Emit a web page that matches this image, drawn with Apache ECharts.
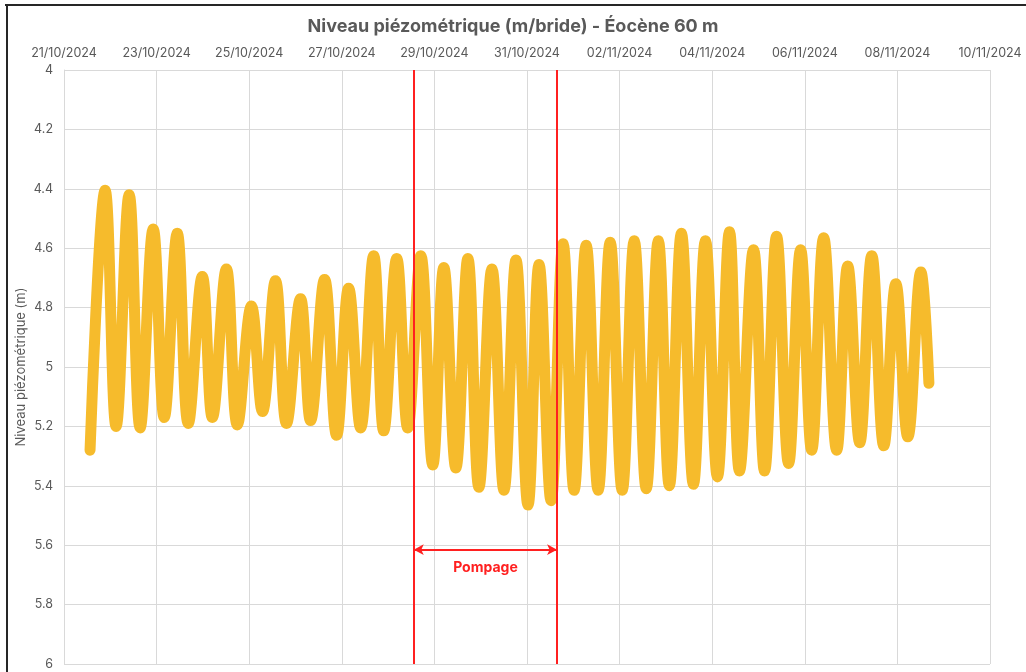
<!DOCTYPE html>
<html>
<head>
<meta charset="utf-8">
<script src="https://cdn.jsdelivr.net/npm/echarts@6/dist/echarts.min.js"></script>
<style>
html,body{margin:0;padding:0;background:#fff;}
#c{width:1026px;height:672px;}
</style>
</head>
<body>
<div id="c"></div>
<script>
// Date labels of the top axis (every 2 days)
const dateTicks = ['21/10/2024','23/10/2024','25/10/2024','27/10/2024','29/10/2024','31/10/2024','02/11/2024','04/11/2024','06/11/2024','08/11/2024','10/11/2024'];
const axisStart = '2024-10-21T00:00';

// Timestamps of successive turning points of the level
const times = [
 '2024-10-21T13:30','2024-10-21T21:18','2024-10-22T03:00','2024-10-22T09:46','2024-10-22T15:29','2024-10-22T22:14',
 '2024-10-23T03:57','2024-10-23T10:42','2024-10-23T16:25','2024-10-23T23:41','2024-10-24T04:53','2024-10-24T12:10',
 '2024-10-24T17:52','2024-10-25T01:09','2024-10-25T06:52','2024-10-25T13:37','2024-10-25T19:20','2024-10-26T02:36',
 '2024-10-26T07:48','2024-10-26T15:04','2024-10-26T21:18','2024-10-27T03:32','2024-10-27T09:46','2024-10-27T16:31',
 '2024-10-27T21:43','2024-10-28T04:28','2024-10-28T10:11','2024-10-28T16:56','2024-10-28T23:10','2024-10-29T04:53',
 '2024-10-29T11:07','2024-10-29T17:21','2024-10-29T23:04','2024-10-30T05:49','2024-10-30T12:03','2024-10-30T18:17',
 '2024-10-31T00:31','2024-10-31T06:14','2024-10-31T12:28','2024-10-31T18:42','2024-11-01T00:25','2024-11-01T06:40',
 '2024-11-01T12:53','2024-11-01T19:07','2024-11-02T01:21','2024-11-02T07:35','2024-11-02T13:49','2024-11-02T20:04',
 '2024-11-03T01:47','2024-11-03T08:01','2024-11-03T14:15','2024-11-03T20:29','2024-11-04T02:43','2024-11-04T08:57',
 '2024-11-04T14:09','2024-11-04T21:25','2024-11-05T03:08','2024-11-05T09:22','2024-11-05T15:36','2024-11-05T21:50',
 '2024-11-06T03:33','2024-11-06T09:47','2024-11-06T16:32','2024-11-06T22:15','2024-11-07T04:29','2024-11-07T10:43',
 '2024-11-07T16:57','2024-11-07T23:11','2024-11-08T05:25','2024-11-08T12:10','2024-11-08T16:20'
];
// Piezometric level (m) at those times
const levels = [
 5.28,4.405,5.20,4.42,5.205,4.535,
 5.17,4.55,5.19,4.695,5.17,4.67,
 5.195,4.795,5.15,4.71,5.19,4.77,
 5.18,4.705,5.23,4.735,5.205,4.625,
 5.215,4.635,5.205,4.625,5.33,4.665,
 5.34,4.635,5.405,4.67,5.415,4.64,
 5.465,4.655,5.45,4.585,5.415,4.59,
 5.415,4.58,5.415,4.575,5.41,4.575,
 5.40,4.55,5.395,4.575,5.37,4.545,
 5.35,4.605,5.35,4.56,5.325,4.605,
 5.28,4.565,5.28,4.66,5.255,4.625,
 5.265,4.72,5.235,4.68,5.055
];
// Pumping period
const pumpStart = '2024-10-28T13:18';
const pumpEnd = '2024-10-31T15:36';
const pumpLabel = 'Pompage';
const pumpArrowLevel = 5.615;

const yTicks = {min: 4, max: 6, step: 0.2};

function dayOffset(s) {
  return (Date.parse(s + ':00Z') - Date.parse(axisStart + ':00Z')) / 86400000;
}
const seriesData = times.map((t, i) => [dayOffset(t), levels[i]]);
const ps = dayOffset(pumpStart), pe = dayOffset(pumpEnd);

const chart = echarts.init(document.getElementById('c'), null, {renderer: 'canvas'});
const gray = '#595959';
const ff = 'Inter, "Noto Sans", sans-serif';
chart.setOption({
  animation: false,
  backgroundColor: '#ffffff',
  title: {
    text: 'Niveau piézométrique (m/bride) - Éocène 60 m',
    left: 'center', top: 13,
    textStyle: {fontFamily: ff, fontSize: 18, fontWeight: 'bold', color: gray}
  },
  grid: {left: 64, right: 36, top: 70, bottom: 8, containLabel: false},
  xAxis: {
    type: 'value', position: 'top',
    min: 0, max: (dateTicks.length - 1) * 2, interval: 2,
    axisLine: {show: false}, axisTick: {show: false},
    splitLine: {show: true, lineStyle: {color: '#d9d9d9', width: 1}},
    axisLabel: {
      margin: 10, color: gray, fontSize: 12.5, fontFamily: ff,
      formatter: v => dateTicks[Math.round(v / 2)] || ''
    }
  },
  yAxis: {
    type: 'value', inverse: true,
    min: yTicks.min, max: yTicks.max, interval: yTicks.step,
    name: 'Niveau piézométrique (m)', nameLocation: 'middle', nameGap: 36, nameRotate: 90,
    nameMoveOverlap: false,
    nameTextStyle: {color: gray, fontSize: 13, fontFamily: ff},
    axisLine: {show: true, lineStyle: {color: '#d9d9d9'}}, axisTick: {show: false},
    splitLine: {show: true, lineStyle: {color: '#d9d9d9', width: 1}},
    axisLabel: {
      margin: 11, color: gray, fontSize: 12.5, fontFamily: ff,
      formatter: v => String(Math.round(v * 10) / 10)
    }
  },
  series: [{
    type: 'line',
    data: seriesData,
    smooth: 0.4,
    showSymbol: false,
    lineStyle: {color: '#F6BB2C', width: 11, cap: 'round', join: 'round'},
    z: 2,
    markLine: {
      silent: true, symbol: ['none', 'none'], animation: false,
      lineStyle: {color: '#FF2020', width: 2, type: 'solid'},
      label: {show: false},
      data: [
        {xAxis: ps},
        {xAxis: pe},
        [
          {coord: [ps, pumpArrowLevel], symbol: 'arrow', symbolSize: [8, 10], symbolRotate: 90},
          {coord: [pe, pumpArrowLevel], symbol: 'arrow', symbolSize: [8, 10],
           label: {show: true, formatter: pumpLabel, position: 'insideMiddleBottom', distance: 11,
                   color: '#FF2020', fontSize: 14, fontWeight: 'bold', fontFamily: ff}}
        ]
      ]
    }
  }],
  graphic: [
    {type: 'rect', shape: {x: 5, y: 4, width: 1021, height: 2}, style: {fill: '#262626'}, z: 100},
    {type: 'rect', shape: {x: 6, y: 4, width: 2, height: 668}, style: {fill: '#262626'}, z: 100}
  ]
});
</script>
</body>
</html>
